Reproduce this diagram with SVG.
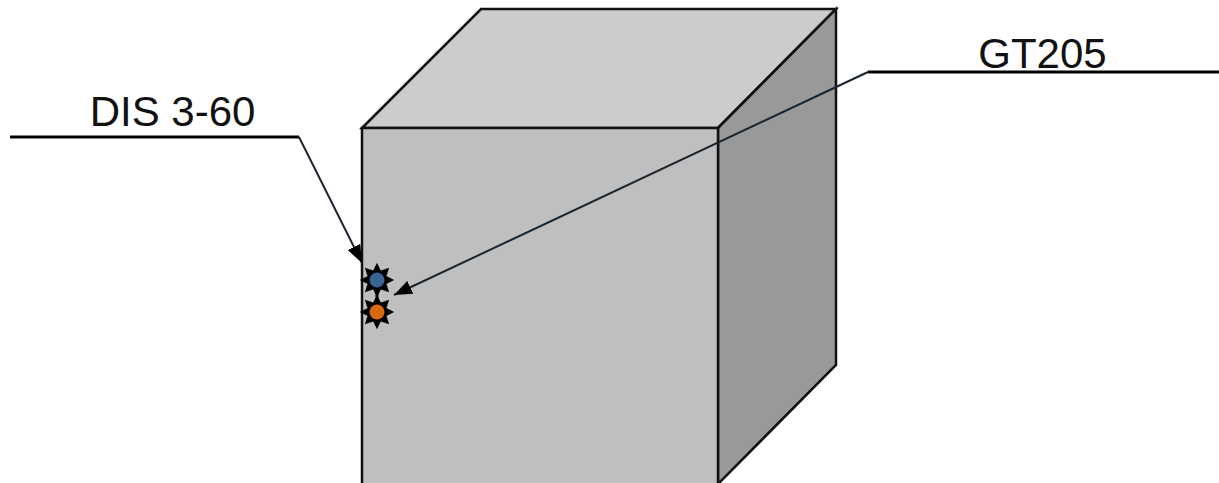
<svg xmlns="http://www.w3.org/2000/svg" width="1219" height="483" viewBox="0 0 1219 483">
<style>
.face{stroke:#111;stroke-width:2.500;stroke-linejoin:miter}
.lead{fill:none;stroke:#000;stroke-width:3}
.arrow{fill:none;stroke:#1a2530;stroke-width:2;marker-end:url(#ah)}
.star{fill:#000;stroke:#000;stroke-width:1.5}
.label{font-family:"Liberation Sans",Arial,sans-serif;font-size:42px;fill:#111;text-anchor:middle}
</style>
<defs>
<marker id="ah" markerUnits="userSpaceOnUse" markerWidth="20" markerHeight="16" refX="18" refY="7" orient="auto"><path d="M0 0L18 7L0 14Z" fill="#000"/></marker>
<path id="st" d="M0-15.500L3.500-8.500L11-11L8.500-3.500L15.500 0L8.500 3.500L11 11L3.500 8.500L0 15.500L-3.500 8.500L-11 11L-8.500 3.500L-15.500 0L-8.500-3.500L-11-11L-3.500-8.500Z"/>
</defs>
<rect width="1219" height="483" fill="#fff"/>
<g id="box">
<path class="face" fill="#cccccc" d="M362 128L481 9H836L718 128Z"/>
<path class="face" fill="#999999" d="M718 128L836 9V365L718 484Z"/>
<path class="face" fill="#bfbfbf" d="M362 128H718V490H362Z"/>
</g>
<g id="sensor-blue"><use href="#st" class="star" x="377" y="280"/><circle cx="377" cy="280" r="7.500" fill="#3a6496"/></g>
<g id="sensor-orange"><use href="#st" class="star" x="377" y="312"/><circle cx="377" cy="312" r="7.500" fill="#d9690f"/></g>
<path d="M377 293V299" stroke="#000" stroke-width="3"/>
<g id="connectors">
<path class="lead" d="M10 137H299"/>
<path class="arrow" d="M299 137L362 263"/>
<path class="lead" d="M868 72H1219"/>
<path class="arrow" d="M868 72L394 295"/>
</g>
<g id="label-dis"><text class="label" x="172.500" y="125.500">DIS 3-60</text></g>
<g id="label-gt"><text class="label" x="1042.500" y="67.500">GT205</text></g>
</svg>
